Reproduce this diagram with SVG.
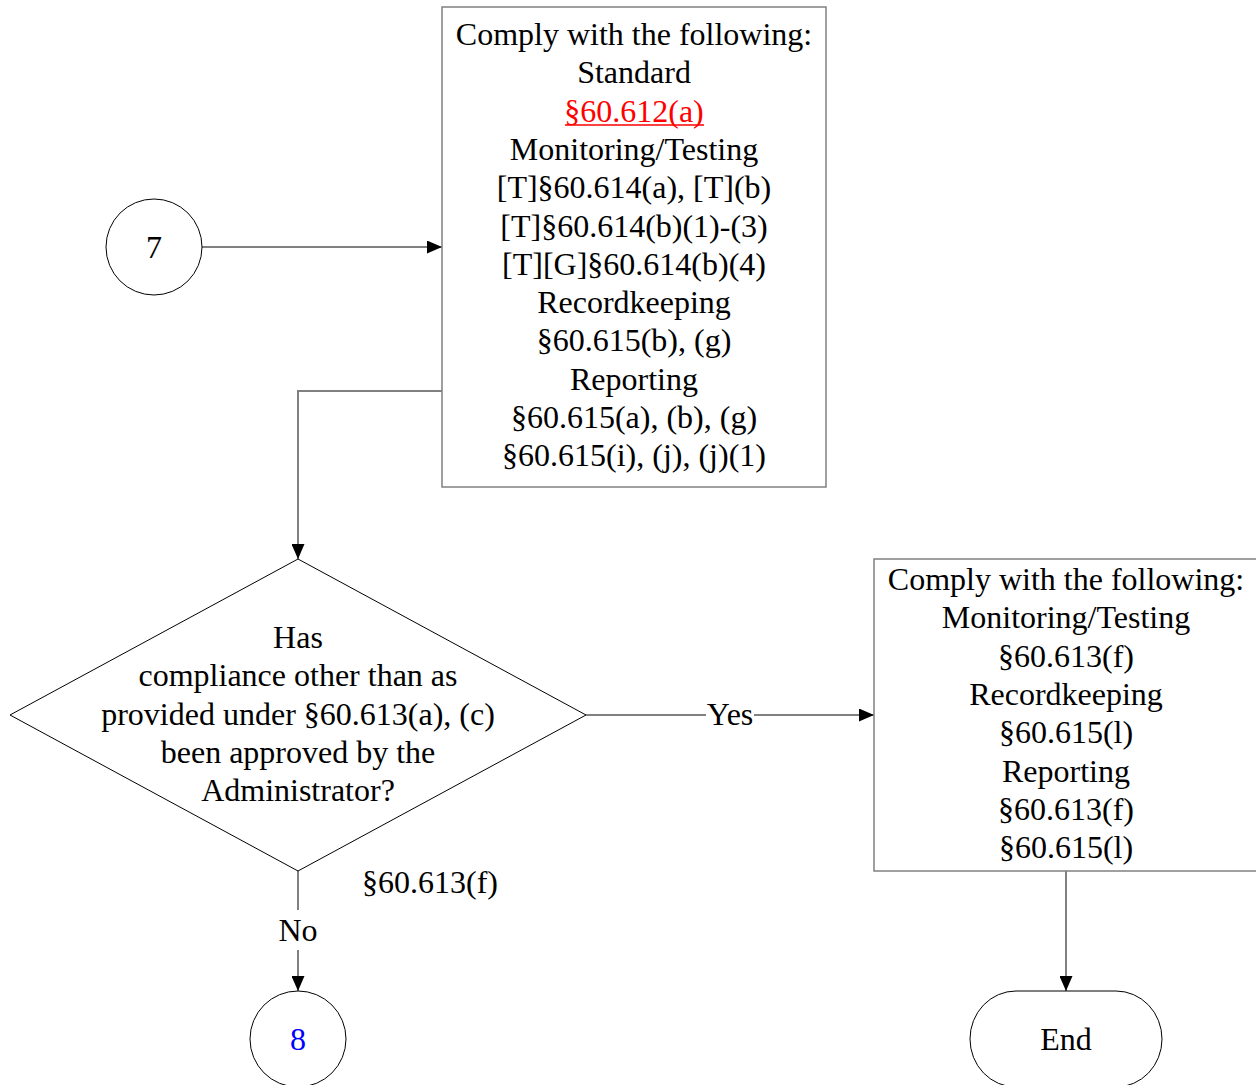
<svg xmlns="http://www.w3.org/2000/svg" width="1256" height="1085" viewBox="0 0 1256 1085">
<style>
text{font-family:"Liberation Serif","Times New Roman",serif;font-size:32px;fill:#000;text-anchor:middle}
.box{fill:#fff;stroke:#808080;stroke-width:1.5}
.shape{fill:#fff;stroke:#000;stroke-width:1}
.conn{fill:none;stroke:#808080;stroke-width:2}
.link{fill:#f00}
.uline{stroke:#f00;stroke-width:1.6}
.blue{fill:#00f}
</style>
<defs>
<marker id="arr" markerWidth="15" markerHeight="13" refX="15" refY="6.5" orient="auto" markerUnits="userSpaceOnUse">
<path d="M0,0 L15,6.5 L0,13 Z" fill="#000"/>
</marker>
</defs>
<g id="connectors">
<path class="conn" d="M202,247 H442" marker-end="url(#arr)"/>
<path class="conn" d="M442,391 H298 V559" marker-end="url(#arr)"/>
<path class="conn" d="M586,715 H706"/>
<path class="conn" d="M754,715 H874" marker-end="url(#arr)"/>
<path class="conn" d="M298,871 V910"/>
<path class="conn" d="M298,950 V991" marker-end="url(#arr)"/>
<path class="conn" d="M1066,871 V991" marker-end="url(#arr)"/>
<text x="730" y="725">Yes</text>
<text x="298" y="941">No</text>
<text x="430" y="893">§60.613(f)</text>
</g>
<g id="node7">
<circle class="shape" cx="154" cy="247" r="48"/>
<text x="154" y="258">7</text>
</g>
<g id="box1">
<rect class="box" x="442" y="7" width="384" height="480"/>
<text x="634" y="45">Comply with the following:</text>
<text x="634" y="83.3">Standard</text>
<text x="634" y="121.6" class="link">§60.612(a)</text>
<line class="uline" x1="565" y1="125" x2="704" y2="125"/>
<text x="634" y="159.9">Monitoring/Testing</text>
<text x="634" y="198.2">[T]§60.614(a), [T](b)</text>
<text x="634" y="236.5">[T]§60.614(b)(1)-(3)</text>
<text x="634" y="274.8">[T][G]§60.614(b)(4)</text>
<text x="634" y="313.1">Recordkeeping</text>
<text x="634" y="351.4">§60.615(b), (g)</text>
<text x="634" y="389.7">Reporting</text>
<text x="634" y="428">§60.615(a), (b), (g)</text>
<text x="634" y="466.3">§60.615(i), (j), (j)(1)</text>
</g>
<g id="decision">
<polygon class="shape" points="298,559 586,715 298,871 10,715"/>
<text x="298" y="648">Has</text>
<text x="298" y="686.3">compliance other than as</text>
<text x="298" y="724.6">provided under §60.613(a), (c)</text>
<text x="298" y="762.9">been approved by the</text>
<text x="298" y="801.2">Administrator?</text>
</g>
<g id="box2">
<rect class="box" x="874" y="559" width="384" height="312"/>
<text x="1066" y="590">Comply with the following:</text>
<text x="1066" y="628.3">Monitoring/Testing</text>
<text x="1066" y="666.6">§60.613(f)</text>
<text x="1066" y="704.9">Recordkeeping</text>
<text x="1066" y="743.2">§60.615(l)</text>
<text x="1066" y="781.5">Reporting</text>
<text x="1066" y="819.8">§60.613(f)</text>
<text x="1066" y="858.1">§60.615(l)</text>
</g>
<g id="node8">
<circle class="shape" cx="298" cy="1039" r="48"/>
<text x="298" y="1050" class="blue">8</text>
</g>
<g id="end">
<path class="shape" d="M1016,991 H1116 A46,48 0 0 1 1116,1087 H1016 A46,48 0 0 1 1016,991 Z"/>
<text x="1066" y="1050">End</text>
</g>
</svg>
